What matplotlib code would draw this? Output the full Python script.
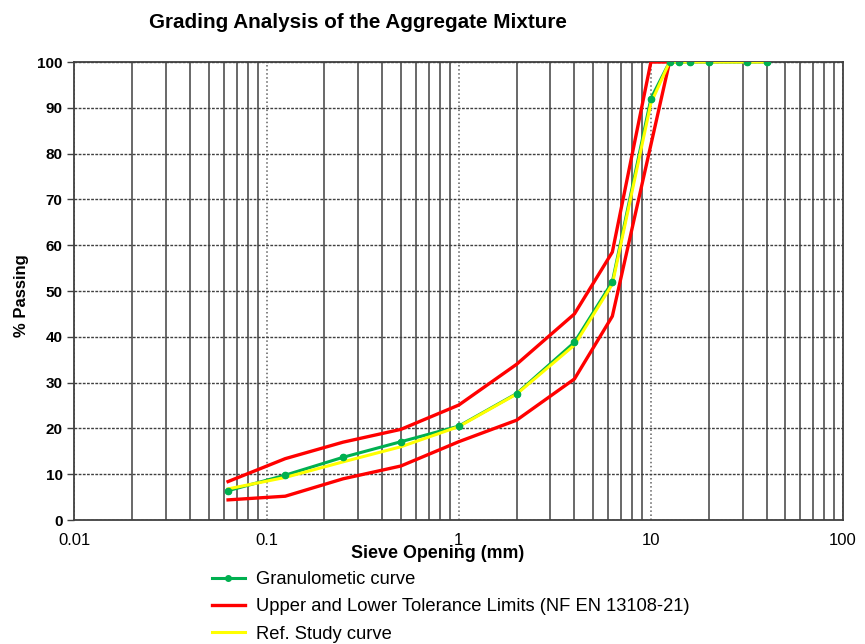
import matplotlib.pyplot as plt
import numpy as np

plt.rcParams['font.family'] = ['Liberation Sans', 'DejaVu Sans']

# sieve sizes (mm) and % passing
sieves = [0.063, 0.125, 0.25, 0.5, 1, 2, 4, 6.3, 10, 12.5, 14, 16, 20, 31.5, 40]
granulometric = [6.4, 9.8, 13.7, 17.1, 20.5, 27.6, 38.8, 52, 92, 100, 100, 100, 100, 100, 100]
ref_study = [6.8, 9.3, 12.7, 16.0, 20.4, 27.5, 38.2, 51.5, 91, 100, 100, 100, 100, 100, 100]

upper_sieves = [0.063, 0.125, 0.25, 0.5, 1, 2, 4, 6.3, 10, 12.5]
upper_limit = [8.4, 13.4, 17, 19.8, 25.1, 34, 45, 58.5, 100, 100]
lower_sieves = [0.063, 0.125, 0.25, 0.5, 1, 2, 4, 6.3, 12.5]
lower_limit = [4.4, 5.2, 9, 11.8, 17.1, 21.8, 30.8, 44.5, 100]

fig = plt.figure(figsize=(8.65, 6.44), dpi=100)
ax = fig.add_axes([0.0861, 0.1925, 0.8885, 0.7112])

ax.set_xscale('log')
ax.set_xlim(0.01, 100)
ax.set_ylim(0, 100)

# grid: decades dotted, intermediate lines solid
ax.set_xticks([0.01, 0.1, 1, 10, 100])
ax.set_xticklabels(['0.01', '0.1', '1', '10', '100'])
ax.set_xticks([m * d for d in [0.01, 0.1, 1, 10] for m in range(2, 10)], minor=True)
ax.set_yticks(np.arange(0, 101, 10))
ax.grid(which='minor', axis='x', color='#404040', linestyle='-', linewidth=1.1)
ax.grid(which='major', axis='x', color='#606060', linestyle=':', linewidth=1.1)
ax.grid(which='major', axis='y', color='#404040', linestyle=(0, (2, 1)), linewidth=1.0)
ax.set_axisbelow(True)

ax.tick_params(axis='x', which='both', length=0, labelsize=12, pad=9)
ax.tick_params(axis='y', length=5, labelsize=11, width=1, color='#404040')
for lab in ax.get_yticklabels():
    lab.set_fontweight('bold')
for s in ax.spines.values():
    s.set_color('#404040')
    s.set_linewidth(1.3)

ax.plot(upper_sieves, upper_limit, color='#FF0000', lw=2.4, zorder=3,
        label='Upper and Lower Tolerance Limits (NF EN 13108-21)')
ax.plot(lower_sieves, lower_limit, color='#FF0000', lw=2.4, zorder=3)
ax.plot(sieves, granulometric, color='#00B050', lw=2.2, marker='o', markersize=4,
        zorder=4, label='Granulometic curve')
ax.plot(sieves, ref_study, color='#FFFF00', lw=2.2, zorder=5, label='Ref. Study curve')
# granulometric sieve points sit on top of the yellow line
ax.plot(sieves, granulometric, linestyle='none', marker='o', markersize=4.5,
        color='#00B050', zorder=6)

handles, labels = ax.get_legend_handles_labels()
order = [1, 0, 2]
fig.legend([handles[i] for i in order], [labels[i] for i in order],
           loc='upper left', bbox_to_anchor=(0.235, 0.127), frameon=False,
           fontsize=13.2, handlelength=1.75, labelspacing=0.55, borderpad=0,
           handletextpad=0.6)

fig.text(358 / 865, 1 - 22 / 644, 'Grading Analysis of the Aggregate Mixture',
         ha='center', va='center', fontsize=14.9, fontweight='bold')
fig.text(438 / 865, 1 - 554 / 644, 'Sieve Opening (mm)', ha='center', va='center',
         fontsize=12.9, fontweight='bold')
fig.text(22 / 865, 1 - 296 / 644, '% Passing', ha='center', va='center',
         rotation=90, fontsize=12, fontweight='bold')

fig.savefig('out.png', dpi=100)
